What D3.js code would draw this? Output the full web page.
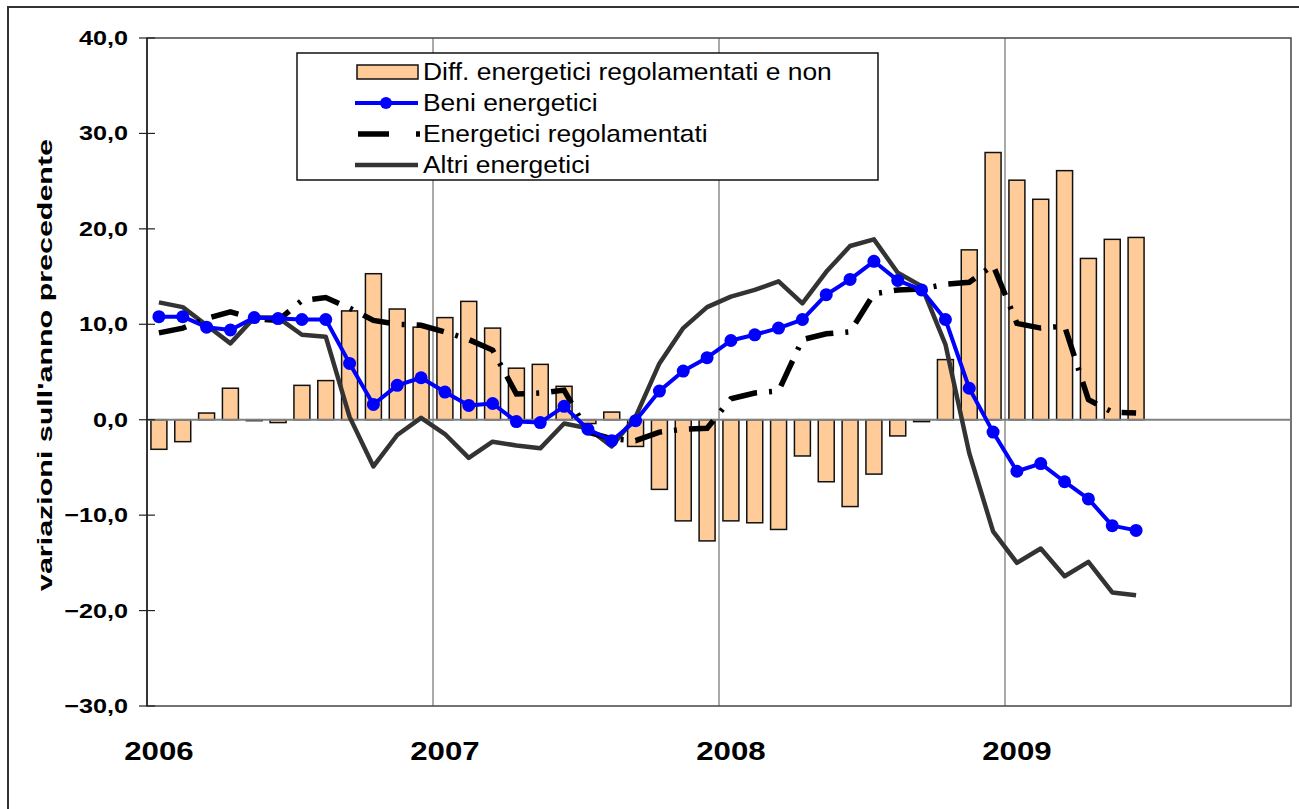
<!DOCTYPE html>
<meta charset="utf-8">
<style>
body { margin: 0; background: #fff; }
svg { display: block; font-family: "Liberation Sans", Arial, sans-serif; }
</style>
<svg width="1299" height="809"></svg>
<script src="https://d3js.org/d3.v7.min.js"></script>
<script>

// mesi da gen 2006 a dic 2009, dati fino a giu 2009
const anni = ["2006", "2007", "2008", "2009"];
const mesi = ["gen", "feb", "mar", "apr", "mag", "giu", "lug", "ago", "set", "ott", "nov", "dic"];

// Diff. energetici regolamentati e non (barre)
const diff = [-3.1, -2.3, 0.7, 3.3, -0.1, -0.3, 3.6, 4.1, 11.4, 15.3, 11.6, 9.7,
  10.7, 12.4, 9.6, 5.4, 5.8, 3.5, -0.4, 0.8, -2.8, -7.3, -10.6, -12.7,
  -10.6, -10.8, -11.5, -3.8, -6.5, -9.1, -5.7, -1.7, -0.2, 6.3, 17.8, 28.0,
  25.1, 23.1, 26.1, 16.9, 18.9, 19.1];
// Beni energetici
const beni = [10.8, 10.8, 9.7, 9.4, 10.7, 10.6, 10.5, 10.5, 5.9, 1.6, 3.6, 4.4,
  2.9, 1.5, 1.7, -0.2, -0.3, 1.4, -1.0, -2.2, -0.1, 3.0, 5.1, 6.5,
  8.3, 8.9, 9.6, 10.5, 13.1, 14.7, 16.6, 14.6, 13.6, 10.5, 3.3, -1.3,
  -5.4, -4.6, -6.5, -8.3, -11.1, -11.6];
// Energetici regolamentati
const regolamentati = [9.1, 9.6, 10.6, 11.3, 10.6, 10.4, 12.5, 12.8, 11.7, 10.4, 10.0, 9.9,
  9.2, 8.4, 7.3, 2.7, 2.8, 3.1, -1.3, -2.0, -2.2, -1.3, -1.0, -0.9,
  2.2, 2.8, 3.0, 8.4, 9.0, 9.2, 13.2, 13.6, 13.7, 14.2, 14.4, 16.2,
  10.1, 9.6, 9.8, 2.1, 0.8, 0.7];
// Altri energetici
const altri = [12.3, 11.8, 9.9, 8.0, 10.7, 10.7, 8.9, 8.7, 0.3, -4.9, -1.6, 0.2,
  -1.5, -4.0, -2.3, -2.7, -3.0, -0.4, -0.9, -2.8, 0.3, 5.9, 9.6, 11.8,
  12.9, 13.6, 14.5, 12.2, 15.5, 18.2, 18.9, 15.4, 14.0, 7.9, -3.5, -11.7,
  -15.0, -13.5, -16.4, -14.9, -18.1, -18.4];

const yTicks = [-30, -20, -10, 0, 10, 20, 30, 40];

const categorie = [];
anni.forEach(function(a) { mesi.forEach(function(m) { categorie.push(m + " " + a); }); });

const svg = d3.select("svg");
const pLeft = 147, pRight = 1291, pTop = 38, pBottom = 706;

const x = d3.scaleBand().domain(categorie).range([pLeft, pRight]).paddingInner(0.33).paddingOuter(0.165);
const xc = function(i) { return x(categorie[i]) + x.bandwidth() / 2; };
const y = d3.scaleLinear().domain([-30, 40]).range([pBottom, pTop]);
const step = x.step();

// cornice esterna
svg.append("rect").attr("x", 8).attr("y", 7).attr("width", 1400).attr("height", 900)
  .attr("fill", "none").attr("stroke", "#333").attr("stroke-width", 2);

// area del grafico
svg.append("rect").attr("x", pLeft).attr("y", pTop).attr("width", pRight - pLeft).attr("height", pBottom - pTop)
  .attr("fill", "#fff").attr("stroke", "#444").attr("stroke-width", 1.5);

// griglia verticale agli inizi d'anno
svg.selectAll("line.grid").data(anni.slice(1)).enter().append("line")
  .attr("class", "grid")
  .attr("x1", function(a) { return x("gen " + a) - step * 0.165; })
  .attr("x2", function(a) { return x("gen " + a) - step * 0.165; })
  .attr("y1", pTop).attr("y2", pBottom)
  .attr("stroke", "#555").attr("stroke-width", 1);

// barre
svg.selectAll("rect.bar").data(diff).enter().append("rect")
  .attr("class", "bar")
  .attr("x", function(d, i) { return x(categorie[i]); })
  .attr("width", x.bandwidth())
  .attr("y", function(d) { return y(Math.max(0, d)); })
  .attr("height", function(d) { return Math.abs(y(d) - y(0)); })
  .attr("fill", "#FFCC99").attr("stroke", "#111").attr("stroke-width", 1.5);

// linea dello zero
svg.append("line").attr("x1", pLeft).attr("x2", pRight).attr("y1", y(0)).attr("y2", y(0))
  .attr("stroke", "#808080").attr("stroke-width", 2);

// asse y
const yAxis = svg.append("g").attr("transform", "translate(" + pLeft + ",0)");
yAxis.append("line").attr("y1", pTop).attr("y2", pBottom).attr("stroke", "#222").attr("stroke-width", 1.5);
yAxis.selectAll("line.tick").data(yTicks).enter().append("line")
  .attr("class", "tick")
  .attr("x1", -8).attr("x2", 8)
  .attr("y1", function(d) { return y(d); }).attr("y2", function(d) { return y(d); })
  .attr("stroke", "#222").attr("stroke-width", 1.2);
yAxis.selectAll("text").data(yTicks).enter().append("text")
  .attr("transform", function(d) { return "translate(-19," + (y(d) + 7) + ") scale(1.2,1)"; })
  .attr("text-anchor", "end")
  .attr("font-size", 21).attr("font-weight", "bold")
  .text(function(d) { return d3.format(".1f")(d).replace(".", ","); });

svg.append("text")
  .attr("transform", "translate(52,365) rotate(-90)")
  .attr("text-anchor", "middle")
  .attr("font-size", 20).attr("font-weight", "bold")
  .attr("textLength", 452).attr("lengthAdjust", "spacingAndGlyphs")
  .text("variazioni sull'anno precedente");

// etichette anni
svg.selectAll("text.anno").data(anni).enter().append("text")
  .attr("class", "anno")
  .attr("transform", function(a) { return "translate(" + xc(categorie.indexOf("gen " + a)) + ",760) scale(1.2,1)"; })
  .attr("text-anchor", "middle")
  .attr("font-size", 26).attr("font-weight", "bold")
  .text(function(a) { return a; });

const line = d3.line().x(function(d, i) { return xc(i); }).y(function(d) { return y(d); });

svg.append("path").datum(altri).attr("d", line)
  .attr("fill", "none").attr("stroke", "#333").attr("stroke-width", 4.5).attr("stroke-linejoin", "round");

svg.append("path").datum(regolamentati).attr("d", line)
  .attr("fill", "none").attr("stroke", "#000").attr("stroke-width", 5.5)
  .attr("stroke-dasharray", "28,12,3,12");

svg.append("path").datum(beni).attr("d", line)
  .attr("fill", "none").attr("stroke", "#0000FF").attr("stroke-width", 4).attr("stroke-linejoin", "round");
svg.selectAll("circle.beni").data(beni).enter().append("circle")
  .attr("class", "beni")
  .attr("cx", function(d, i) { return xc(i); })
  .attr("cy", function(d) { return y(d); })
  .attr("r", 6.5).attr("fill", "#0000FF");

// legenda
const leg = svg.append("g");
leg.append("rect").attr("x", 297).attr("y", 53).attr("width", 581).attr("height", 127)
  .attr("fill", "#fff").attr("stroke", "#111").attr("stroke-width", 1.5);
const voci = ["Diff. energetici regolamentati e non", "Beni energetici", "Energetici regolamentati", "Altri energetici"];
const ry = [72, 103, 134, 165];
leg.append("rect").attr("x", 357).attr("y", ry[0] - 7).attr("width", 61).attr("height", 14)
  .attr("fill", "#FFCC99").attr("stroke", "#111").attr("stroke-width", 1.5);
leg.append("line").attr("x1", 355).attr("x2", 418).attr("y1", ry[1]).attr("y2", ry[1])
  .attr("stroke", "#0000FF").attr("stroke-width", 4);
leg.append("circle").attr("cx", 386).attr("cy", ry[1]).attr("r", 6).attr("fill", "#0000FF");
leg.append("line").attr("x1", 358).attr("x2", 420).attr("y1", ry[2]).attr("y2", ry[2])
  .attr("stroke", "#000").attr("stroke-width", 5.5).attr("stroke-dasharray", "31,27,4,20");
leg.append("line").attr("x1", 355).attr("x2", 418).attr("y1", ry[3]).attr("y2", ry[3])
  .attr("stroke", "#333").attr("stroke-width", 4.5);
leg.selectAll("text").data(voci).enter().append("text")
  .attr("transform", function(d, i) { return "translate(423," + (ry[i] + 8) + ") scale(1.1,1)"; })
  .attr("font-size", 24)
  .text(function(d) { return d; });

</script>
